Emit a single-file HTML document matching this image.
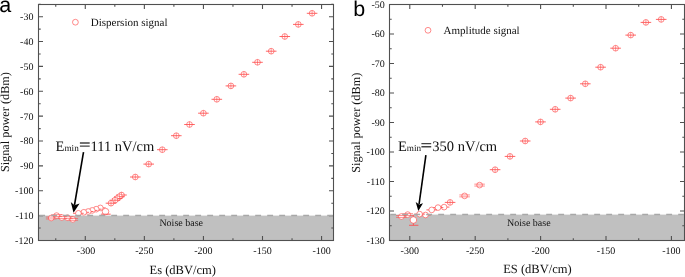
<!DOCTYPE html><html><head><meta charset="utf-8"><style>
html,body{margin:0;padding:0;background:#fff;width:685px;height:277px;overflow:hidden}
svg{display:block;will-change:transform}
text{font-family:"Liberation Serif",serif;fill:#111;text-rendering:geometricPrecision}
.t{font-size:10px}
.nb{font-size:10px}
.lg{font-size:11px}
.ti{font-size:12.5px}.yt{font-size:12.25px}
.an{font-size:14.5px}
.sub{font-size:9.2px}
.pl{font-family:"Liberation Sans",sans-serif;font-size:21.5px;fill:#000}
.eb{stroke:#ff4a4a;stroke-width:0.85;fill:none}
.mk{stroke:#ff4a4a;stroke-width:0.65;fill:#fff}
.cr{stroke:#ff4a4a;stroke-width:0.55;fill:none}
.db{stroke:#ff4a4a;stroke-width:0.6;fill:none}
</style></head><body>
<svg width="685" height="277" viewBox="0 0 685 277">
<rect x="38.5" y="215.6" width="295" height="24.9" fill="#c0c0c0"/>
<text x="159.4" y="225.8" class="nb">Noise base</text>
<circle cx="312.1" cy="13.3" r="2.85" class="mk"/><path d="M306.8 13.3h10.6" class="eb"/><path d="M312.1 10.45v5.7" class="cr"/>
<circle cx="298.3" cy="24.4" r="2.85" class="mk"/><path d="M293 24.4h10.6" class="eb"/><path d="M298.3 21.55v5.7" class="cr"/>
<circle cx="284.8" cy="36.5" r="2.85" class="mk"/><path d="M279.5 36.5h10.6" class="eb"/><path d="M284.8 33.65v5.7" class="cr"/>
<circle cx="271.2" cy="51.2" r="2.85" class="mk"/><path d="M265.9 51.2h10.6" class="eb"/><path d="M271.2 48.35v5.7" class="cr"/>
<circle cx="257.5" cy="62.3" r="2.85" class="mk"/><path d="M252.2 62.3h10.6" class="eb"/><path d="M257.5 59.45v5.7" class="cr"/>
<circle cx="243.9" cy="74.3" r="2.85" class="mk"/><path d="M238.6 74.3h10.6" class="eb"/><path d="M243.9 71.45v5.7" class="cr"/>
<circle cx="230.9" cy="85.9" r="2.85" class="mk"/><path d="M225.6 85.9h10.6" class="eb"/><path d="M230.9 83.05v5.7" class="cr"/>
<circle cx="216.8" cy="99.3" r="2.85" class="mk"/><path d="M211.5 99.3h10.6" class="eb"/><path d="M216.8 96.45v5.7" class="cr"/>
<circle cx="203.4" cy="113.2" r="2.85" class="mk"/><path d="M198.1 113.2h10.6" class="eb"/><path d="M203.4 110.35v5.7" class="cr"/>
<circle cx="189.5" cy="124.5" r="2.85" class="mk"/><path d="M184.2 124.5h10.6" class="eb"/><path d="M189.5 121.65v5.7" class="cr"/>
<circle cx="176.3" cy="135.7" r="2.85" class="mk"/><path d="M171 135.7h10.6" class="eb"/><path d="M176.3 132.85v5.7" class="cr"/>
<circle cx="162.3" cy="149.7" r="2.85" class="mk"/><path d="M157 149.7h10.6" class="eb"/><path d="M162.3 146.85v5.7" class="cr"/>
<circle cx="148.7" cy="164.1" r="2.85" class="mk"/><path d="M143.4 164.1h10.6" class="eb"/><path d="M148.7 161.25v5.7" class="cr"/>
<circle cx="135.3" cy="177" r="2.85" class="mk"/><path d="M130 177h10.6" class="eb"/><path d="M135.3 174.15v5.7" class="cr"/>
<circle cx="121.5" cy="195" r="2.85" class="mk"/><path d="M116.2 195h10.6" class="eb"/><path d="M121.5 192.15v5.7" class="cr"/>
<circle cx="119.4" cy="196.7" r="2.85" class="mk"/><path d="M114.1 196.7h10.6" class="eb"/><path d="M119.4 193.85v5.7" class="cr"/>
<circle cx="117.2" cy="198.5" r="2.85" class="mk"/><path d="M111.9 198.5h10.6" class="eb"/><path d="M117.2 195.65v5.7" class="cr"/>
<circle cx="115" cy="200.2" r="2.85" class="mk"/><path d="M109.7 200.2h10.6" class="eb"/><path d="M115 197.35v5.7" class="cr"/>
<circle cx="111" cy="203.2" r="2.85" class="mk"/><path d="M105.7 203.2h10.6" class="eb"/><path d="M111 200.35v5.7" class="cr"/>
<path d="M95 207.9h10.6" class="eb"/><circle cx="100.3" cy="207.9" r="2.85" class="mk"/>
<path d="M90.9 209.2h10.6" class="eb"/><circle cx="96.2" cy="209.2" r="2.85" class="mk"/>
<path d="M86.9 210.4h10.6" class="eb"/><circle cx="92.2" cy="210.4" r="2.85" class="mk"/>
<path d="M82.9 211.5h10.6" class="eb"/><circle cx="88.2" cy="211.5" r="2.85" class="mk"/>
<path d="M78.5 212.3h10.6" class="eb"/><circle cx="83.8" cy="212.3" r="2.85" class="mk"/>
<path d="M73.1 213.3h10.6" class="eb"/><circle cx="78.4" cy="213.3" r="2.85" class="mk"/>
<circle cx="72.8" cy="219.4" r="2.85" class="mk"/><path d="M67.5 218.45h10.6M67.5 220.35h10.6" class="db"/>
<circle cx="67.4" cy="217.7" r="2.85" class="mk"/><path d="M62.1 216.75h10.6M62.1 218.65h10.6" class="db"/>
<circle cx="61.8" cy="217.5" r="2.85" class="mk"/><path d="M56.5 216.55h10.6M56.5 218.45h10.6" class="db"/>
<circle cx="56.6" cy="215.6" r="2.85" class="mk"/><path d="M51.3 214.65h10.6M51.3 216.55h10.6" class="db"/>
<circle cx="51.2" cy="218" r="2.85" class="mk"/><path d="M45.9 217.05h10.6M45.9 218.95h10.6" class="db"/>
<circle cx="105.5" cy="211.6" r="3.3" class="mk"/>
<path d="M100.9 214.2h9.8" class="eb"/>
<rect x="38.5" y="4.5" width="295" height="236" fill="none" stroke="#505050" stroke-width="1.1"/>
<path d="M85.28 240.5v-4.5M85.28 4.5v4.5M144.36 240.5v-4.5M144.36 4.5v4.5M203.43 240.5v-4.5M203.43 4.5v4.5M262.5 240.5v-4.5M262.5 4.5v4.5M321.57 240.5v-4.5M321.57 4.5v4.5M55.75 240.5v-2.2M55.75 4.5v2.2M114.82 240.5v-2.2M114.82 4.5v2.2M173.89 240.5v-2.2M173.89 4.5v2.2M232.96 240.5v-2.2M232.96 4.5v2.2M292.03 240.5v-2.2M292.03 4.5v2.2M38.5 240.5h4.5M333.5 240.5h-4.5M38.5 215.63h4.5M333.5 215.63h-4.5M38.5 190.76h4.5M333.5 190.76h-4.5M38.5 165.9h4.5M333.5 165.9h-4.5M38.5 141.03h4.5M333.5 141.03h-4.5M38.5 116.16h4.5M333.5 116.16h-4.5M38.5 91.29h4.5M333.5 91.29h-4.5M38.5 66.42h4.5M333.5 66.42h-4.5M38.5 41.55h4.5M333.5 41.55h-4.5M38.5 16.69h4.5M333.5 16.69h-4.5M38.5 228.07h2.2M333.5 228.07h-2.2M38.5 203.2h2.2M333.5 203.2h-2.2M38.5 178.33h2.2M333.5 178.33h-2.2M38.5 153.46h2.2M333.5 153.46h-2.2M38.5 128.59h2.2M333.5 128.59h-2.2M38.5 103.72h2.2M333.5 103.72h-2.2M38.5 78.86h2.2M333.5 78.86h-2.2M38.5 53.99h2.2M333.5 53.99h-2.2M38.5 29.12h2.2M333.5 29.12h-2.2M38.5 4.25h2.2M333.5 4.25h-2.2" stroke="#505050" stroke-width="1.1" fill="none"/>
<text x="85.98" y="253.8" class="t" text-anchor="middle">-300</text>
<text x="144.36" y="253.8" class="t" text-anchor="middle">-250</text>
<text x="203.43" y="253.8" class="t" text-anchor="middle">-200</text>
<text x="262.5" y="253.8" class="t" text-anchor="middle">-150</text>
<text x="321.57" y="253.8" class="t" text-anchor="middle">-100</text>
<text x="33.4" y="243.9" class="t" text-anchor="end">-120</text>
<text x="33.4" y="219.03" class="t" text-anchor="end">-110</text>
<text x="33.4" y="194.16" class="t" text-anchor="end">-100</text>
<text x="33.4" y="169.3" class="t" text-anchor="end">-90</text>
<text x="33.4" y="144.43" class="t" text-anchor="end">-80</text>
<text x="33.4" y="119.56" class="t" text-anchor="end">-70</text>
<text x="33.4" y="94.69" class="t" text-anchor="end">-60</text>
<text x="33.4" y="69.82" class="t" text-anchor="end">-50</text>
<text x="33.4" y="44.95" class="t" text-anchor="end">-40</text>
<text x="33.4" y="20.09" class="t" text-anchor="end">-30</text>
<line x1="39.2" y1="215.6" x2="332.9" y2="215.6" stroke="#a8a8a8" stroke-width="1.5" stroke-dasharray="5.9 6.1"/>
<circle cx="75.4" cy="22.2" r="2.9" class="mk"/>
<text x="90.8" y="26" class="lg">Dispersion signal</text>
<text x="55.6" y="150.8" class="an">E<tspan class="sub">min</tspan></text>
<path d="M79.9 143h9.8M79.9 146.1h9.8" stroke="#444" stroke-width="1.4"/>
<text x="90.5" y="150.8" class="an">111 nV/cm</text>
<path d="M83.5 152.2L74.5 205" stroke="#000" stroke-width="1.6" fill="none"/>
<path d="M73.5 212.8L70.8 202L74.4 205.2L79.6 203.4Z" fill="#000"/>
<text x="182.7" y="274.2" class="ti" text-anchor="middle">Es (dBV/cm)</text>
<text transform="translate(8.9 122.1) rotate(-90)" class="yt" text-anchor="middle">Signal power (dBm)</text>
<text x="-0.8" y="11.6" class="pl">a</text>
<rect x="389.5" y="214.6" width="295" height="25.9" fill="#c0c0c0"/>
<text x="507" y="225.8" class="nb">Noise base</text>
<circle cx="661.2" cy="19.4" r="2.85" class="mk"/><path d="M655.9 19.4h10.6" class="eb"/><path d="M661.2 16.55v5.7" class="cr"/>
<circle cx="645.9" cy="22.4" r="2.85" class="mk"/><path d="M640.6 22.4h10.6" class="eb"/><path d="M645.9 19.55v5.7" class="cr"/>
<circle cx="630.7" cy="35.1" r="2.85" class="mk"/><path d="M625.4 35.1h10.6" class="eb"/><path d="M630.7 32.25v5.7" class="cr"/>
<circle cx="615.6" cy="48.2" r="2.85" class="mk"/><path d="M610.3 48.2h10.6" class="eb"/><path d="M615.6 45.35v5.7" class="cr"/>
<circle cx="600.6" cy="67.2" r="2.85" class="mk"/><path d="M595.3 67.2h10.6" class="eb"/><path d="M600.6 64.35v5.7" class="cr"/>
<circle cx="585.3" cy="83.8" r="2.85" class="mk"/><path d="M580 83.8h10.6" class="eb"/><path d="M585.3 80.95v5.7" class="cr"/>
<circle cx="570.6" cy="98.1" r="2.85" class="mk"/><path d="M565.3 98.1h10.6" class="eb"/><path d="M570.6 95.25v5.7" class="cr"/>
<circle cx="555.2" cy="109.3" r="2.85" class="mk"/><path d="M549.9 109.3h10.6" class="eb"/><path d="M555.2 106.45v5.7" class="cr"/>
<circle cx="540.5" cy="121.9" r="2.85" class="mk"/><path d="M535.2 121.9h10.6" class="eb"/><path d="M540.5 119.05v5.7" class="cr"/>
<circle cx="525.2" cy="141" r="2.85" class="mk"/><path d="M519.9 141h10.6" class="eb"/><path d="M525.2 138.15v5.7" class="cr"/>
<circle cx="510" cy="156.4" r="2.85" class="mk"/><path d="M504.7 156.4h10.6" class="eb"/><path d="M510 153.55v5.7" class="cr"/>
<circle cx="495.1" cy="169.7" r="2.85" class="mk"/><path d="M489.8 169.7h10.6" class="eb"/><path d="M495.1 166.85v5.7" class="cr"/>
<circle cx="479.6" cy="185.1" r="2.85" class="mk"/><path d="M474.3 184.15h10.6M474.3 186.05h10.6" class="db"/>
<circle cx="464.6" cy="195.9" r="2.85" class="mk"/><path d="M459.3 194.95h10.6M459.3 196.85h10.6" class="db"/>
<circle cx="450.1" cy="202.4" r="2.85" class="mk"/><path d="M444.8 202.4h10.6" class="eb"/><path d="M450.1 199.55v5.7" class="cr"/>
<path d="M438.8 207.1h10.6" class="eb"/><circle cx="444.1" cy="207.1" r="2.85" class="mk"/>
<path d="M432.7 207.6h10.6" class="eb"/><circle cx="438" cy="207.6" r="2.85" class="mk"/>
<path d="M426.4 209.9h10.6" class="eb"/><circle cx="431.7" cy="209.9" r="2.85" class="mk"/>
<path d="M420.2 215h10.6" class="eb"/><circle cx="425.5" cy="215" r="2.85" class="mk"/>
<path d="M414.3 214.1h10.6" class="eb"/><circle cx="419.6" cy="214.1" r="2.85" class="mk"/>
<circle cx="407.7" cy="214.6" r="2.85" class="mk"/><path d="M402.4 213.65h10.6M402.4 215.55h10.6" class="db"/>
<circle cx="401.4" cy="216.5" r="2.85" class="mk"/><path d="M396.1 215.55h10.6M396.1 217.45h10.6" class="db"/>
<path d="M413.4 214.8v10.5M409 225.3h9.4" class="eb"/>
<circle cx="413.4" cy="220" r="3.3" class="mk"/>
<rect x="389.5" y="4.5" width="295" height="236" fill="none" stroke="#505050" stroke-width="1.1"/>
<path d="M409.78 240.5v-4.5M409.78 4.5v4.5M475.19 240.5v-4.5M475.19 4.5v4.5M540.6 240.5v-4.5M540.6 4.5v4.5M606.01 240.5v-4.5M606.01 4.5v4.5M671.42 240.5v-4.5M671.42 4.5v4.5M442.48 240.5v-2.2M442.48 4.5v2.2M507.89 240.5v-2.2M507.89 4.5v2.2M573.3 240.5v-2.2M573.3 4.5v2.2M638.71 240.5v-2.2M638.71 4.5v2.2M389.5 240.5h4.5M684.5 240.5h-4.5M389.5 211h4.5M684.5 211h-4.5M389.5 181.5h4.5M684.5 181.5h-4.5M389.5 152h4.5M684.5 152h-4.5M389.5 122.5h4.5M684.5 122.5h-4.5M389.5 93h4.5M684.5 93h-4.5M389.5 63.5h4.5M684.5 63.5h-4.5M389.5 34h4.5M684.5 34h-4.5M389.5 4.5h4.5M684.5 4.5h-4.5M389.5 225.75h2.2M684.5 225.75h-2.2M389.5 196.25h2.2M684.5 196.25h-2.2M389.5 166.75h2.2M684.5 166.75h-2.2M389.5 137.25h2.2M684.5 137.25h-2.2M389.5 107.75h2.2M684.5 107.75h-2.2M389.5 78.25h2.2M684.5 78.25h-2.2M389.5 48.75h2.2M684.5 48.75h-2.2M389.5 19.25h2.2M684.5 19.25h-2.2" stroke="#505050" stroke-width="1.1" fill="none"/>
<text x="409.78" y="253.8" class="t" text-anchor="middle">-300</text>
<text x="475.19" y="253.8" class="t" text-anchor="middle">-250</text>
<text x="540.6" y="253.8" class="t" text-anchor="middle">-200</text>
<text x="606.01" y="253.8" class="t" text-anchor="middle">-150</text>
<text x="671.42" y="253.8" class="t" text-anchor="middle">-100</text>
<text x="384.8" y="243.9" class="t" text-anchor="end">-130</text>
<text x="384.8" y="214.4" class="t" text-anchor="end">-120</text>
<text x="384.8" y="184.9" class="t" text-anchor="end">-110</text>
<text x="384.8" y="155.4" class="t" text-anchor="end">-100</text>
<text x="384.8" y="125.9" class="t" text-anchor="end">-90</text>
<text x="384.8" y="96.4" class="t" text-anchor="end">-80</text>
<text x="384.8" y="66.9" class="t" text-anchor="end">-70</text>
<text x="384.8" y="37.4" class="t" text-anchor="end">-60</text>
<text x="384.8" y="7.9" class="t" text-anchor="end">-50</text>
<line x1="390.2" y1="214.6" x2="683.9" y2="214.6" stroke="#a8a8a8" stroke-width="1.5" stroke-dasharray="5.9 6.1"/>
<circle cx="428" cy="30.3" r="2.9" class="mk"/>
<text x="443.6" y="34.4" class="lg">Amplitude signal</text>
<text x="397.9" y="151.3" class="an">E<tspan class="sub">min</tspan></text>
<path d="M421.4 143.6h9.8M421.4 146.7h9.8" stroke="#444" stroke-width="1.4"/>
<text x="432.3" y="151.3" class="an">350 nV/cm</text>
<path d="M425.9 155.2L419.1 204" stroke="#000" stroke-width="1.6" fill="none"/>
<path d="M418.3 211L415.7 201.9L419.1 204.6L423 203.2Z" fill="#000"/>
<text x="537.4" y="273.1" class="ti" text-anchor="middle">ES (dBV/cm)</text>
<text transform="translate(360.1 122.75) rotate(-90)" class="yt" text-anchor="middle">Signal power (dBm)</text>
<text x="353.3" y="15.5" class="pl">b</text>
</svg></body></html>
